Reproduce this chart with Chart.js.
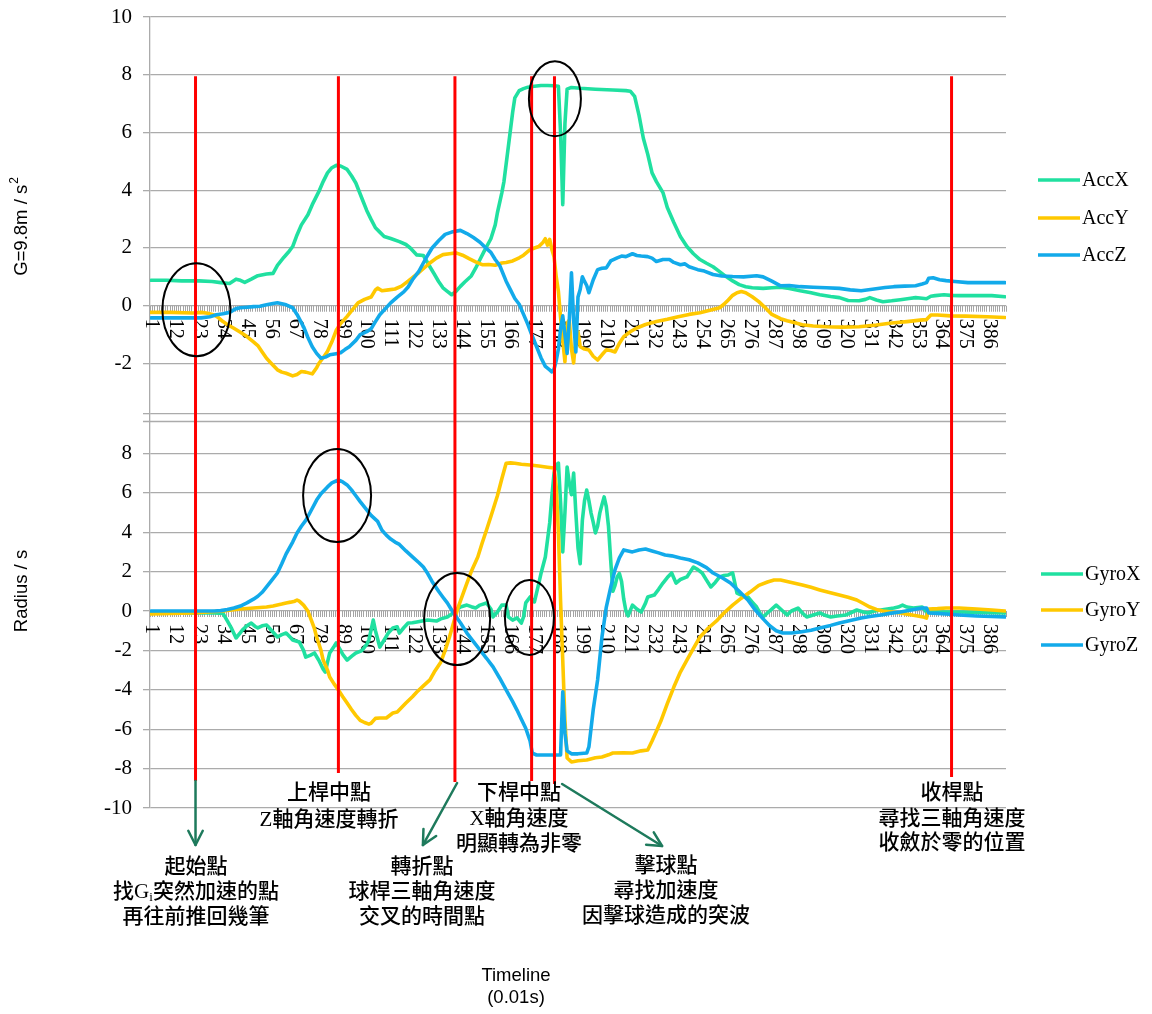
<!DOCTYPE html>
<html>
<head>
<meta charset="utf-8">
<script src="https://cdn.jsdelivr.net/npm/chart.js@4.4.1/dist/chart.umd.min.js"></script>
<style>
  html, body { margin: 0; padding: 0; background: #fff; }
  canvas { display: block; }
</style>
</head>
<body>
<canvas id="swing" width="1152" height="1014" style="width:1152px;height:1014px"></canvas>
<script>
// ---- swing recording: 393 samples, 0.01 s apart ----
const SAMPLE_COUNT = 393;
const tickLabels = [1,12,23,34,45,56,67,78,89,100,111,122,133,144,155,166,177,188,199,210,221,232,243,254,265,276,287,298,309,320,331,342,353,364,375,386];
const accTicks = [-2,0,2,4,6,8,10];
const gyroTicks = [-10,-8,-6,-4,-2,0,2,4,6,8,10];

// acceleration (G = 9.8 m/s^2)
const accXIdx = [1,8,15,23,29,33,37,40,42,44,47,50,54,57,59,62,64,66,68,70,73,75,78,80,82,84,86,88,91,93,95,98,100,102,104,106,108,111,115,118,120,123,126,129,131,133,135,137,139,141,143,145,148,150,152,154,157,159,160,162,163,165,167,168,170,172,174,177,180,183,186,188,189,190,191,192,194,198,205,213,219,221,223,225,227,229,231,233,236,238,241,244,247,250,253,256,259,262,265,268,271,274,277,282,286,290,294,299,304,308,313,317,321,326,329,331,334,337,341,345,349,352,355,357,359,361,365,368,372,380,387,393];
const accX = [0.88,0.88,0.86,0.86,0.84,0.8,0.77,0.92,0.88,0.81,0.92,1.04,1.1,1.12,1.4,1.68,1.85,2.05,2.45,2.8,3.15,3.5,3.95,4.3,4.6,4.78,4.86,4.84,4.72,4.5,4.25,3.68,3.3,2.99,2.7,2.55,2.4,2.33,2.22,2.12,2.0,1.76,1.74,1.35,1.1,0.84,0.62,0.5,0.38,0.5,0.67,0.82,1.03,1.3,1.6,1.9,2.32,2.8,3.22,3.9,4.3,5.5,6.7,7.2,7.45,7.52,7.57,7.6,7.63,7.63,7.62,7.6,6.0,3.5,6.3,7.5,7.56,7.53,7.5,7.47,7.45,7.43,7.25,6.6,5.8,5.25,4.6,4.3,3.92,3.4,2.88,2.4,2.05,1.8,1.6,1.47,1.35,1.18,1.01,0.86,0.73,0.66,0.62,0.6,0.62,0.64,0.6,0.52,0.45,0.38,0.32,0.28,0.18,0.17,0.22,0.28,0.2,0.14,0.17,0.21,0.25,0.28,0.26,0.24,0.33,0.35,0.38,0.36,0.35,0.35,0.35,0.31];

const accYIdx = [1,10,20,24,27,30,32,34,36,39,42,45,48,50,52,54,56,59,61,63,66,68,70,72,75,77,78,80,82,84,86,88,91,93,96,99,102,104,105,107,110,113,116,119,121,124,127,129,132,135,138,141,144,147,150,153,156,159,162,164,167,170,172,175,177,179,181,182,183,184,185,186,187,188,189,190,191,192,193,194,195,196,197,198,200,202,204,206,208,210,212,214,216,218,221,224,228,233,238,243,248,253,258,262,264,266,268,270,272,274,277,280,283,286,290,293,297,300,305,311,318,326,334,341,348,354,357,359,362,368,375,385,393];
const accY = [-0.23,-0.23,-0.25,-0.23,-0.26,-0.32,-0.42,-0.55,-0.65,-0.78,-0.92,-1.07,-1.25,-1.38,-1.6,-1.82,-1.98,-2.22,-2.3,-2.34,-2.43,-2.38,-2.28,-2.3,-2.36,-2.15,-2.0,-1.8,-1.58,-1.25,-0.85,-0.62,-0.37,-0.18,0.1,0.22,0.3,0.55,0.61,0.52,0.55,0.58,0.68,0.85,0.97,1.15,1.35,1.48,1.65,1.77,1.8,1.83,1.75,1.63,1.52,1.42,1.43,1.4,1.48,1.5,1.55,1.66,1.75,1.94,2.0,2.05,2.2,2.32,2.1,2.3,1.95,1.7,1.0,0.5,-0.4,-1.2,-1.94,-0.6,-0.5,-1.5,-1.98,-1.1,-0.9,-1.42,-1.5,-1.53,-1.75,-1.88,-1.7,-1.53,-1.55,-1.6,-1.3,-1.07,-0.9,-0.77,-0.65,-0.55,-0.47,-0.38,-0.3,-0.24,-0.15,-0.07,0.05,0.2,0.36,0.45,0.49,0.45,0.31,0.14,-0.07,-0.3,-0.45,-0.52,-0.6,-0.66,-0.7,-0.73,-0.74,-0.73,-0.67,-0.6,-0.55,-0.5,-0.48,-0.32,-0.32,-0.35,-0.36,-0.38,-0.41];

const accZIdx = [1,10,20,24,28,31,34,37,40,42,45,48,51,54,57,59,61,63,66,68,71,73,75,77,79,81,83,86,88,90,92,95,97,100,102,104,106,108,111,114,117,119,121,124,126,128,130,133,136,139,143,146,149,152,154,157,159,161,164,166,168,170,172,174,176,178,180,182,184,185,186,187,188,189,190,191,192,193,194,195,196,197,198,199,200,201,202,204,206,208,210,212,215,217,219,222,224,226,229,231,233,236,239,241,244,246,248,252,255,259,263,268,273,279,282,286,290,294,299,305,311,317,322,327,333,338,342,347,352,355,357,358,360,363,366,370,376,385,393];
const accZ = [-0.42,-0.42,-0.42,-0.42,-0.38,-0.31,-0.28,-0.23,-0.1,-0.07,-0.05,-0.03,-0.02,0.03,0.08,0.1,0.07,0.03,-0.07,-0.3,-0.73,-1.1,-1.42,-1.65,-1.82,-1.78,-1.7,-1.66,-1.63,-1.52,-1.42,-1.2,-1.0,-0.9,-0.8,-0.55,-0.31,-0.15,0.1,0.3,0.48,0.65,0.9,1.2,1.48,1.75,2.0,2.25,2.47,2.55,2.61,2.5,2.36,2.2,2.05,1.85,1.6,1.4,0.85,0.55,0.25,0.05,-0.3,-0.65,-1.05,-1.42,-1.8,-2.1,-2.22,-2.29,-2.2,-1.9,-1.5,-0.8,-0.35,-1.0,-1.65,-0.5,1.14,-0.5,-1.6,0.3,0.56,1.0,0.84,0.7,0.45,0.9,1.25,1.3,1.31,1.55,1.66,1.72,1.7,1.8,1.74,1.72,1.7,1.65,1.53,1.6,1.6,1.5,1.42,1.45,1.35,1.25,1.2,1.08,1.03,1.01,1.0,1.04,1.0,0.85,0.69,0.7,0.66,0.64,0.62,0.6,0.55,0.52,0.58,0.63,0.66,0.68,0.69,0.75,0.8,0.95,0.97,0.9,0.87,0.84,0.8,0.8,0.8];

// angular velocity (rad/s)
const gyroXIdx = [1,10,20,30,34,36,38,40,42,43,45,47,49,50,52,54,56,59,61,63,65,66,69,71,72,74,76,78,80,81,82,83,85,86,88,89,91,93,95,97,98,100,101,103,104,106,108,110,112,114,115,117,119,121,123,126,128,130,132,134,137,139,141,143,146,148,150,152,155,157,158,160,162,164,165,167,169,171,172,173,175,177,179,180,182,184,185,186,187,188,189,190,191,192,193,194,195,196,197,198,199,200,201,202,203,204,205,206,207,208,209,210,211,212,213,214,215,216,217,218,219,220,222,224,226,228,229,232,234,236,238,240,242,244,247,250,252,254,256,258,260,262,264,266,268,270,273,275,277,279,281,282,285,288,291,293,295,298,300,302,305,308,310,313,316,320,323,325,328,330,333,336,339,342,344,346,348,351,353,355,357,360,365,372,380,386,393];
const gyroX = [-0.1,-0.08,-0.1,-0.1,-0.12,-0.5,-0.9,-1.37,-1.1,-0.96,-0.75,-0.61,-0.8,-0.86,-0.75,-0.71,-0.95,-1.32,-1.2,-1.12,-1.35,-1.47,-1.57,-2.0,-2.34,-2.25,-2.13,-2.5,-2.95,-3.1,-2.6,-2.13,-1.8,-1.62,-2.0,-2.2,-2.49,-2.3,-2.13,-2.05,-1.98,-1.7,-1.47,-0.46,-1.0,-1.83,-1.47,-1.1,-0.86,-0.8,-1.12,-0.85,-0.61,-0.6,-0.56,-0.5,-0.46,-0.48,-0.51,-0.4,-0.3,-0.15,0.05,0.2,0.3,0.22,0.15,0.3,0.41,0.1,-0.3,-0.05,0.3,0.3,-0.3,-0.46,-0.35,-0.61,-0.3,0.41,0.71,0.46,1.4,1.9,2.74,4.47,5.8,7.0,7.4,7.51,5.5,3.0,5.0,7.31,6.5,5.9,7.0,5.0,3.2,2.4,4.6,5.6,6.14,5.6,4.97,4.5,3.96,4.3,4.97,5.4,5.79,5.3,4.3,2.6,1.0,1.3,1.73,1.9,1.5,0.6,0.0,-0.25,0.3,0.1,-0.05,0.4,0.71,0.81,1.1,1.42,1.7,1.93,1.42,1.6,1.73,2.23,2.1,1.93,1.57,1.22,1.45,1.73,1.8,1.83,1.93,0.91,0.75,0.71,0.45,0.2,-0.2,-0.3,0.0,0.3,0.0,-0.2,0.0,0.15,-0.1,-0.3,-0.2,-0.1,-0.2,-0.3,-0.25,-0.2,-0.05,0.05,-0.05,-0.1,0.0,0.05,0.1,0.15,0.2,0.3,0.2,0.15,0.18,0.2,-0.05,-0.05,-0.05,-0.05,-0.07,-0.08,-0.1];

const gyroYIdx = [1,10,20,27,34,38,42,48,54,57,59,61,63,65,67,68,69,71,73,74,76,77,79,80,82,83,85,87,89,91,93,95,97,99,101,102,104,106,109,112,114,116,118,121,123,126,129,131,134,136,138,140,142,144,146,148,151,153,155,157,160,162,164,166,168,171,175,179,183,186,187,188,189,190,191,192,194,197,201,205,208,211,213,218,222,226,229,231,233,235,238,241,244,247,250,253,257,261,264,268,272,276,280,284,287,290,293,297,300,304,308,312,317,321,325,328,331,334,337,341,345,349,353,356,357,358,362,366,372,380,387,393];
const gyroY = [-0.15,-0.13,-0.1,-0.05,0.0,0.05,0.1,0.15,0.2,0.25,0.3,0.35,0.41,0.45,0.5,0.56,0.5,0.3,0.0,-0.3,-0.9,-1.32,-2.0,-2.49,-3.0,-3.35,-3.7,-4.01,-4.35,-4.67,-5.0,-5.3,-5.55,-5.66,-5.74,-5.7,-5.45,-5.43,-5.43,-5.18,-5.13,-4.9,-4.67,-4.35,-4.11,-3.8,-3.5,-3.1,-2.6,-2.0,-1.32,-0.55,0.2,0.8,1.42,2.0,2.74,3.45,4.11,4.8,5.85,6.7,7.5,7.52,7.5,7.45,7.41,7.36,7.3,7.26,6.3,4.0,0.5,-2.5,-5.53,-7.46,-7.66,-7.6,-7.56,-7.45,-7.41,-7.3,-7.21,-7.2,-7.21,-7.1,-7.06,-6.6,-6.1,-5.6,-4.7,-3.86,-3.1,-2.49,-1.9,-1.32,-0.85,-0.46,-0.1,0.3,0.65,0.96,1.3,1.47,1.57,1.57,1.5,1.4,1.32,1.2,1.07,0.95,0.81,0.7,0.56,0.38,0.2,0.08,0.0,-0.05,-0.1,-0.18,-0.25,-0.32,-0.36,0.1,0.12,0.15,0.15,0.1,0.05,0.0];

const gyroZIdx = [1,10,20,30,33,36,39,42,45,48,50,52,54,56,59,61,63,66,68,70,72,74,77,79,82,84,87,89,91,93,95,97,100,102,105,107,109,111,113,115,118,121,124,126,128,130,133,135,137,139,141,143,146,149,152,155,158,161,164,167,169,171,173,175,176,178,181,184,187,189,190,191,192,194,197,201,202,204,206,208,210,212,214,216,218,220,222,225,228,231,234,237,240,244,248,252,256,259,263,267,271,275,278,282,285,288,291,295,299,304,308,313,317,322,327,331,336,340,345,350,355,357,358,362,366,372,380,387,393];
const gyroZ = [0,0,0,0,0.02,0.08,0.15,0.25,0.41,0.6,0.75,0.95,1.22,1.5,1.93,2.4,2.9,3.5,3.96,4.3,4.6,5.0,5.63,5.95,6.3,6.5,6.65,6.55,6.4,6.15,5.85,5.55,5.13,4.85,4.55,4.1,3.85,3.65,3.5,3.38,3.05,2.75,2.45,2.23,1.9,1.5,1.0,0.7,0.41,0.05,-0.28,-0.6,-1.12,-1.55,-1.98,-2.4,-2.84,-3.4,-4.0,-4.6,-5.03,-5.5,-5.95,-6.6,-7.21,-7.31,-7.31,-7.31,-7.31,-7.31,-4.1,-6.2,-7.1,-7.25,-7.25,-7.21,-6.9,-5.0,-3.5,-1.32,0.2,1.2,2.1,2.7,3.1,3.05,3.0,3.1,3.15,3.05,2.95,2.84,2.8,2.69,2.6,2.44,2.2,1.93,1.7,1.42,1.0,0.56,0.1,-0.4,-0.75,-1.0,-1.12,-1.12,-1.07,-0.98,-0.86,-0.73,-0.61,-0.48,-0.36,-0.28,-0.2,-0.12,-0.05,0.05,0.15,0.15,-0.1,-0.12,-0.15,-0.2,-0.25,-0.28,-0.3];

// swing phase markers (sample index) and where each marker stops on the gyro scale
const phaseMarkers = [21.4, 87.0, 140.5, 175.7, 186.2, 368.5];
const markerTop = 7.95;
const markerBottoms = [-8.63, -8.22, -8.68, -8.63, -8.78, -8.43];

const GREEN = '#20E0A0', YELLOW = '#FFC800', BLUE = '#12AAEA';
const GRID = '#ababab';

function series(label, idx, vals, color, axis, order) {
  const n = Math.min(idx.length, vals.length);
  const pts = [];
  for (let i = 0; i < n; i++) pts.push({ x: idx[i], y: vals[i] });
  return { label, data: pts, borderColor: color, backgroundColor: color, borderWidth: 3.6,
           pointRadius: 0, tension: 0, yAxisID: axis, order,
           borderJoinStyle: 'round', borderCapStyle: 'round' };
}

const datasets = [
  series('AccX', accXIdx, accX, GREEN, 'yA', 3),
  series('AccY', accYIdx, accY, YELLOW, 'yA', 2),
  series('AccZ', accZIdx, accZ, BLUE, 'yA', 1),
  series('GyroX', gyroXIdx, gyroX, GREEN, 'yG', 3),
  series('GyroY', gyroYIdx, gyroY, YELLOW, 'yG', 2),
  series('GyroZ', gyroZIdx, gyroZ, BLUE, 'yG', 1)
];

// circled regions of interest: [sample, value], radii in px
const rings = [
  { axis: 'yA', at: [21.8, -0.14], rx: 34, ry: 46.5 },
  { axis: 'yA', at: [186.4, 7.17], rx: 26, ry: 37.5 },
  { axis: 'yG', at: [86.4, 5.86], rx: 34, ry: 46.5 },
  { axis: 'yG', at: [141.5, -0.41], rx: 33, ry: 46 },
  { axis: 'yG', at: [174.7, -0.33], rx: 24.5, ry: 37.5 }
];
// pointer arrows from phase markers to their notes (gyro scale)
const pointers = [
  { from: [21.4, -8.63], to: [21.4, -11.88] },
  { from: [141.5, -8.73], to: [125.8, -11.88] },
  { from: [189.7, -8.78], to: [235.6, -11.93] }
];

const SERIF = "'Liberation Serif', 'Noto Sans CJK TC', serif";
const notes = [
  { cx: 329, ys: [793, 820], lines: ['上桿中點', 'Z軸角速度轉折'] },
  { cx: 519, ys: [793, 819, 844], lines: ['下桿中點', 'X軸角速度', '明顯轉為非零'] },
  { cx: 952, ys: [793, 819, 843], lines: ['收桿點', '尋找三軸角速度', '收斂於零的位置'] },
  { cx: 196, ys: [867, 892, 917], lines: ['起始點', [{ t: '找' }, { t: 'G' }, { t: 'i', sub: true }, { t: '突然加速的點' }], '再往前推回幾筆'] },
  { cx: 422, ys: [867, 892, 917], lines: ['轉折點', '球桿三軸角速度', '交叉的時間點'] },
  { cx: 666, ys: [866, 891, 916], lines: ['擊球點', '尋找加速度', '因擊球造成的突波'] }
];

function richText(ctx, segs, cx, cy) {
  const base = '500 21px ' + SERIF, small = "13px 'Liberation Serif'";
  let total = 0;
  const w = segs.map(s => { ctx.font = s.sub ? small : base; const m = ctx.measureText(s.t).width; total += m; return m; });
  let px = cx - total / 2;
  ctx.textAlign = 'left'; ctx.textBaseline = 'middle';
  segs.forEach((s, i) => { ctx.font = s.sub ? small : base; ctx.fillText(s.t, px, cy + (s.sub ? 6 : 0)); px += w[i]; });
}

function arrowHead(ctx, x0, y0, x1, y1, len, ang) {
  const a = Math.atan2(y1 - y0, x1 - x0);
  ctx.beginPath();
  ctx.moveTo(x1 - len * Math.cos(a - ang), y1 - len * Math.sin(a - ang));
  ctx.lineTo(x1, y1);
  ctx.lineTo(x1 - len * Math.cos(a + ang), y1 - len * Math.sin(a + ang));
  ctx.stroke();
}

const overlay = {
  id: 'overlay',
  beforeDatasetsDraw(chart) {
    const { ctx } = chart;
    const x = chart.scales.x, yA = chart.scales.yA, yG = chart.scales.yG;
    ctx.save();
    // lower frame line of the acceleration panel
    const yb = Math.round(yA.getPixelForValue(-4)) + 0.5;
    ctx.strokeStyle = GRID; ctx.lineWidth = 1.3;
    ctx.beginPath(); ctx.moveTo(x.left - 7, yb); ctx.lineTo(x.right, yb); ctx.stroke();
    // sample axis on the zero line of each panel
    for (const ys of [yA, yG]) {
      const y0 = ys.getPixelForValue(0);
      ctx.strokeStyle = '#a4a4a4'; ctx.lineWidth = 1;
      ctx.beginPath();
      for (let k = 0; k <= SAMPLE_COUNT; k++) {
        const px = Math.round(x.getPixelForValue(k + 0.5)) + 0.5;
        ctx.moveTo(px, y0); ctx.lineTo(px, y0 + 6);
      }
      ctx.stroke();
      ctx.fillStyle = '#000';
      ctx.font = "20px 'Liberation Serif'";
      ctx.textAlign = 'left'; ctx.textBaseline = 'middle';
      for (const l of tickLabels) {
        ctx.save();
        ctx.translate(x.getPixelForValue(l), y0 + 13);
        ctx.rotate(Math.PI / 2);
        ctx.fillText(String(l), 0, 0);
        ctx.restore();
      }
    }
    ctx.restore();
  },
  afterDraw(chart) {
    const { ctx } = chart;
    const x = chart.scales.x, yA = chart.scales.yA, yG = chart.scales.yG;
    ctx.save();
    // phase markers
    ctx.strokeStyle = '#ff0000'; ctx.lineWidth = 3;
    phaseMarkers.forEach((m, k) => {
      const px = x.getPixelForValue(m);
      ctx.beginPath();
      ctx.moveTo(px, yA.getPixelForValue(markerTop));
      ctx.lineTo(px, yG.getPixelForValue(markerBottoms[k]));
      ctx.stroke();
    });
    // rings
    ctx.strokeStyle = '#000'; ctx.lineWidth = 2;
    for (const r of rings) {
      const s = chart.scales[r.axis];
      ctx.beginPath();
      ctx.ellipse(x.getPixelForValue(r.at[0]), s.getPixelForValue(r.at[1]), r.rx, r.ry, 0, 0, Math.PI * 2);
      ctx.stroke();
    }
    // arrows
    ctx.strokeStyle = '#1E7A5C'; ctx.lineWidth = 2.5; ctx.lineCap = 'round'; ctx.lineJoin = 'round';
    for (const p of pointers) {
      const x0 = x.getPixelForValue(p.from[0]), y0 = yG.getPixelForValue(p.from[1]);
      const x1 = x.getPixelForValue(p.to[0]), y1 = yG.getPixelForValue(p.to[1]);
      ctx.beginPath(); ctx.moveTo(x0, y0); ctx.lineTo(x1, y1); ctx.stroke();
      arrowHead(ctx, x0, y0, x1, y1, 16, 0.47);
    }
    ctx.lineCap = 'butt';
    // notes
    ctx.fillStyle = '#000';
    for (const n of notes) {
      n.lines.forEach((ln, i) => richText(ctx, typeof ln === 'string' ? [{ t: ln }] : ln, n.cx, n.ys[i]));
    }
    // legends
    const rows = { yA: [180, 218, 255], yG: [574, 610, 645] };
    const used = { yA: 0, yG: 0 };
    const lx = { yA: 1038, yG: 1041 };
    chart.data.datasets.forEach(ds => {
      const yy = rows[ds.yAxisID][used[ds.yAxisID]++];
      const x0 = lx[ds.yAxisID];
      ctx.strokeStyle = ds.borderColor; ctx.lineWidth = 3.6;
      ctx.beginPath(); ctx.moveTo(x0, yy); ctx.lineTo(x0 + 42, yy); ctx.stroke();
      ctx.fillStyle = '#000'; ctx.font = "20px 'Liberation Serif'";
      ctx.textAlign = 'left'; ctx.textBaseline = 'middle';
      ctx.fillText(ds.label, x0 + 44, yy + 1);
    });
    // axis titles
    const sans = "'Liberation Sans', Arial, sans-serif";
    ctx.fillStyle = '#000';
    ctx.save();
    ctx.translate(22, 227); ctx.rotate(-Math.PI / 2);
    ctx.font = '18.5px ' + sans;
    const mainT = 'G=9.8m / s';
    const w1 = ctx.measureText(mainT).width;
    ctx.font = '12px ' + sans;
    const w2 = ctx.measureText('2').width;
    const sx = -(w1 + w2) / 2;
    ctx.textAlign = 'left'; ctx.textBaseline = 'middle';
    ctx.font = '18.5px ' + sans; ctx.fillText(mainT, sx, 0);
    ctx.font = '12px ' + sans; ctx.fillText('2', sx + w1 + 1, -7);
    ctx.restore();
    ctx.save();
    ctx.translate(22, 591); ctx.rotate(-Math.PI / 2);
    ctx.font = '18.5px ' + sans; ctx.textAlign = 'center'; ctx.textBaseline = 'middle';
    ctx.fillText('Radius / s', 0, 0);
    ctx.restore();
    ctx.font = '18.5px ' + sans; ctx.textAlign = 'center'; ctx.textBaseline = 'middle';
    ctx.fillText('Timeline', 516, 976);
    ctx.fillText('(0.01s)', 516, 998);
    ctx.restore();
  }
};

const yCommon = {
  type: 'linear', position: 'left', stack: 'panels',
  afterFit: s => { s.width = 150; s.paddingTop = 0; s.paddingBottom = 0; },
  grid: { color: GRID, lineWidth: 1.3, tickLength: 7, tickColor: GRID },
  border: { color: GRID, width: 1.3 },
  ticks: { font: { family: 'Liberation Serif', size: 21 }, color: '#000', padding: 11, autoSkip: false }
};

new Chart(document.getElementById('swing'), {
  type: 'line',
  data: { datasets },
  options: {
    responsive: false, animation: false, devicePixelRatio: 1, events: [],
    layout: { padding: { left: 0, right: 146, top: 17, bottom: 206 } },
    plugins: { legend: { display: false }, tooltip: { enabled: false } },
    scales: {
      x: { type: 'linear', min: 0.5, max: SAMPLE_COUNT + 0.5, display: false },
      yA: Object.assign({}, yCommon, {
        weight: 1, stackWeight: 397, min: -3.75, max: 10,
        afterBuildTicks: s => { s.ticks = accTicks.map(v => ({ value: v })); },
        ticks: Object.assign({}, yCommon.ticks, { callback: v => String(v) })
      }),
      yG: Object.assign({}, yCommon, {
        weight: 0, stackWeight: 394, min: -10, max: 10,
        afterBuildTicks: s => { s.ticks = gyroTicks.map(v => ({ value: v })); },
        ticks: Object.assign({}, yCommon.ticks, { callback: v => (v === 10 ? '' : String(v)) })
      })
    }
  },
  plugins: [overlay]
});
</script>
</body>
</html>
